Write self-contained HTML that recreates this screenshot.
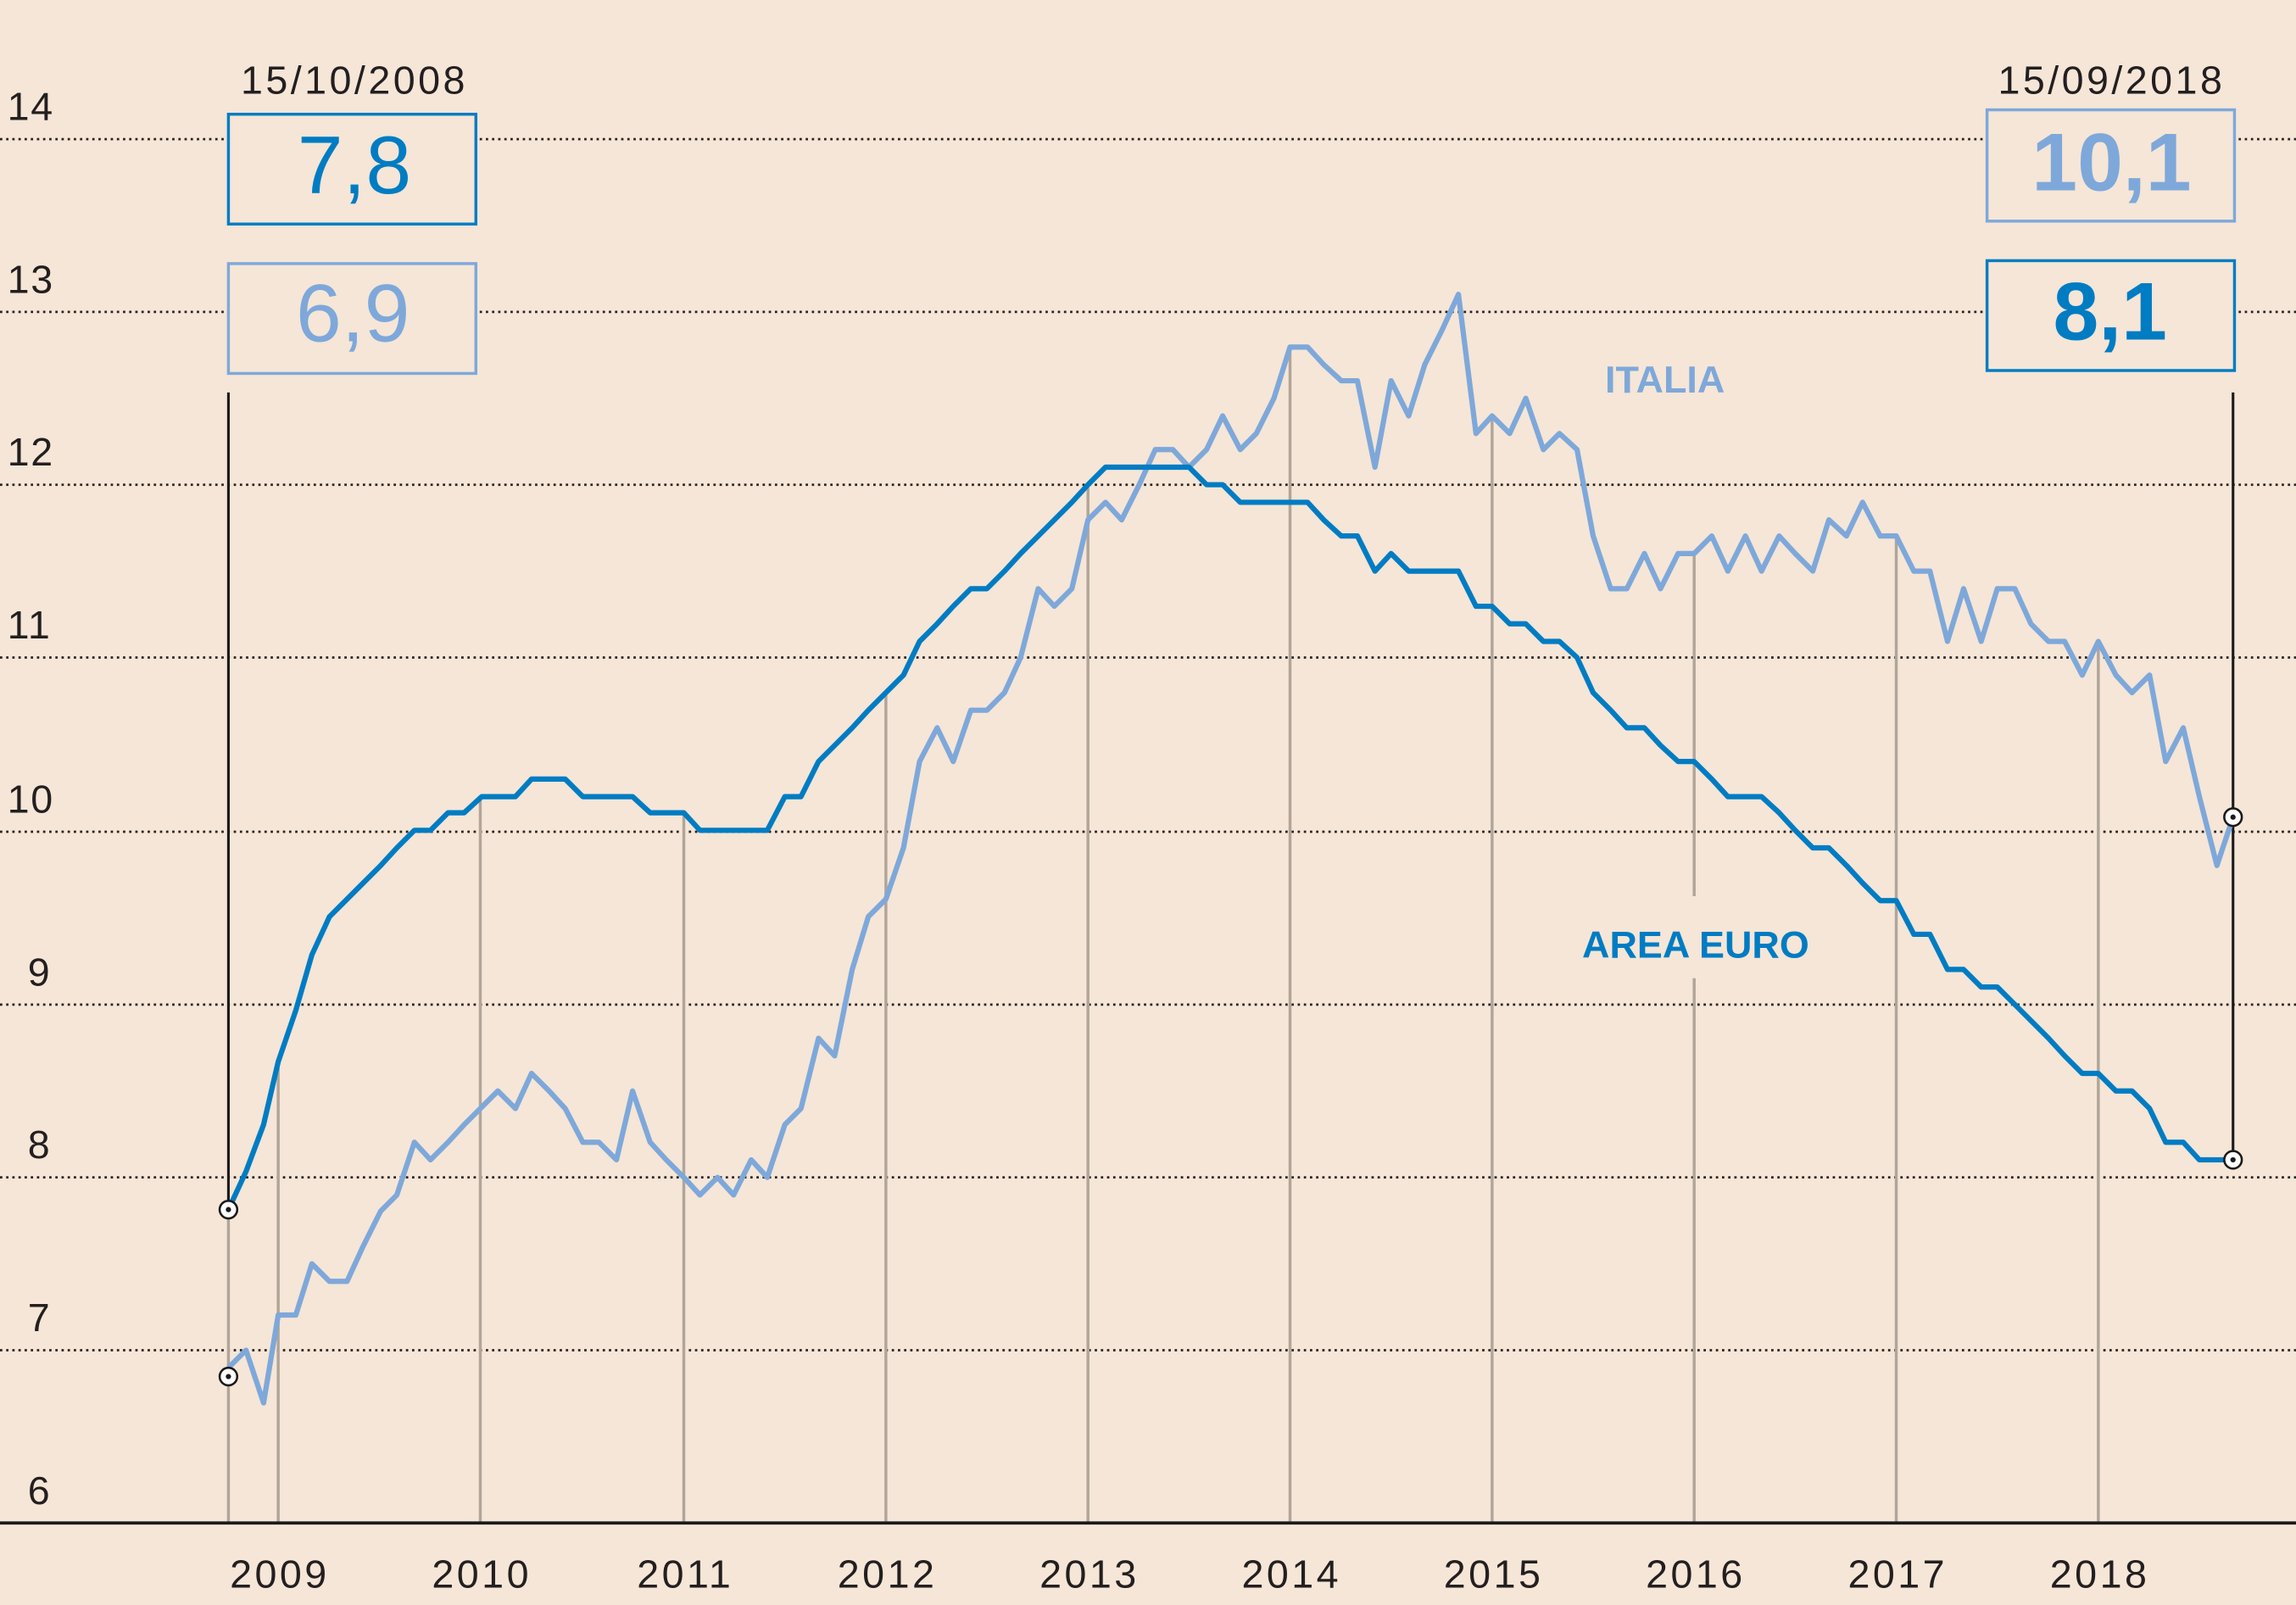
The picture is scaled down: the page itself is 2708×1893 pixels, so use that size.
<!DOCTYPE html>
<html><head><meta charset="utf-8"><style>
html,body{margin:0;padding:0;background:#f5e6d7;}
svg{display:block;}
text{font-family:"Liberation Sans",sans-serif;}
</style></head><body>
<svg width="2708" height="1893" viewBox="0 0 1568 1096" preserveAspectRatio="none" xmlns="http://www.w3.org/2000/svg">
<rect width="1568" height="1096" fill="#f5e6d7"/>
<g stroke="#2a2320" stroke-width="1.6" stroke-dasharray="1.6 2.6">
<line x1="0" y1="95" x2="1568" y2="95"/>
<line x1="0" y1="213" x2="1568" y2="213"/>
<line x1="0" y1="331" x2="1568" y2="331"/>
<line x1="0" y1="449" x2="1568" y2="449"/>
<line x1="0" y1="568" x2="1568" y2="568"/>
<line x1="0" y1="686" x2="1568" y2="686"/>
<line x1="0" y1="804" x2="1568" y2="804"/>
<line x1="0" y1="922" x2="1568" y2="922"/>
</g>
<g stroke="#b1a59a" stroke-width="2">
<line x1="156" y1="826" x2="156" y2="1040"/>
<line x1="190" y1="725" x2="190" y2="1040"/>
<line x1="328" y1="544" x2="328" y2="1040"/>
<line x1="467" y1="555" x2="467" y2="1040"/>
<line x1="605" y1="473" x2="605" y2="1040"/>
<line x1="743" y1="331" x2="743" y2="1040"/>
<line x1="881" y1="237" x2="881" y2="1040"/>
<line x1="1019" y1="284" x2="1019" y2="1040"/>
<line x1="1157" y1="378" x2="1157" y2="612"/>
<line x1="1157" y1="668" x2="1157" y2="1040"/>
<line x1="1295" y1="366" x2="1295" y2="1040"/>
<line x1="1433" y1="438" x2="1433" y2="1040"/>
</g>
<line x1="0" y1="1040" x2="1568" y2="1040" stroke="#1a1a1a" stroke-width="2.2"/>
<line x1="156" y1="268" x2="156" y2="826" stroke="#1a1a1a" stroke-width="1.8"/>
<line x1="1525" y1="268" x2="1525" y2="792" stroke="#1a1a1a" stroke-width="1.8"/>
<g font-size="27" fill="#231f20" letter-spacing="1">
<text x="5" y="82">14</text><text x="5" y="200">13</text><text x="5" y="318">12</text><text x="5" y="436">11</text><text x="5" y="555">10</text><text x="19" y="673">9</text><text x="19" y="791">8</text><text x="19" y="909">7</text><text x="19" y="1027">6</text>
</g>
<g font-size="27" fill="#231f20" text-anchor="middle" letter-spacing="2">
<text x="191" y="1084">2009</text><text x="329" y="1084">2010</text><text x="468" y="1084">2011</text><text x="606" y="1084">2012</text><text x="744" y="1084">2013</text><text x="882" y="1084">2014</text><text x="1020" y="1084">2015</text><text x="1158" y="1084">2016</text><text x="1296" y="1084">2017</text><text x="1434" y="1084">2018</text>
<text x="242" y="64">15/10/2008</text><text x="1442" y="64">15/09/2018</text>
</g>
<polyline fill="none" stroke="#7ea8da" stroke-width="3.6" stroke-linejoin="round" points="156,934 168,922 180,958 190,898 202,898 213,863 225,875 237,875 248,851 260,827 271,816 283,780 294,792 306,780 317,768 329,756 340,745 352,757 363,733 375,745 386,757 398,780 409,780 421,792 432,745 444,780 455,792 467,804 478,816 490,804 501,816 513,792 524,804 536,768 547,757 559,709 570,721 582,662 593,626 605,614 617,579 628,520 640,497 651,520 663,485 674,485 686,473 697,449 709,402 720,414 732,402 743,355 755,343 766,355 778,331 789,307 801,307 812,319 824,307 835,284 847,307 858,296 870,272 881,237 893,237 904,249 916,260 927,260 939,319 950,260 962,284 973,249 985,225 996,201 1008,296 1019,284 1031,296 1042,272 1054,307 1065,296 1077,307 1088,366 1100,402 1111,402 1123,378 1134,402 1146,378 1157,378 1169,366 1180,390 1192,366 1203,390 1215,366 1226,378 1238,390 1249,355 1261,366 1272,343 1284,366 1295,366 1307,390 1318,390 1330,438 1341,402 1353,438 1364,402 1376,402 1387,426 1399,438 1410,438 1422,461 1433,438 1445,461 1456,473 1468,461 1479,520 1491,497 1502,544 1514,591 1525,558"/>
<polyline fill="none" stroke="#007cc3" stroke-width="3.6" stroke-linejoin="round" points="156,826 168,800 180,768 190,725 202,690 213,652 225,626 237,614 248,603 260,591 271,579 283,567 294,567 306,555 317,555 329,544 340,544 352,544 363,532 375,532 386,532 398,544 409,544 421,544 432,544 444,555 455,555 467,555 478,567 490,567 501,567 513,567 524,567 536,544 547,544 559,520 570,509 582,497 593,485 605,473 617,461 628,438 640,426 651,414 663,402 674,402 686,390 697,378 709,366 720,355 732,343 743,331 755,319 766,319 778,319 789,319 801,319 812,319 824,331 835,331 847,343 858,343 870,343 881,343 893,343 904,355 916,366 927,366 939,390 950,378 962,390 973,390 985,390 996,390 1008,414 1019,414 1031,426 1042,426 1054,438 1065,438 1077,449 1088,473 1100,485 1111,497 1123,497 1134,509 1146,520 1157,520 1169,532 1180,544 1192,544 1203,544 1215,555 1226,567 1238,579 1249,579 1261,591 1272,603 1284,615 1295,615 1307,638 1318,638 1330,662 1341,662 1353,674 1364,674 1376,686 1387,697 1399,709 1410,721 1422,733 1433,733 1445,745 1456,745 1468,757 1479,780 1491,780 1502,792 1514,792 1525,792"/>
<g fill="#f5e6d7" stroke-width="2">
<rect x="156" y="78" width="169" height="75" stroke="#007cc3"/>
<rect x="156" y="180" width="169" height="75" stroke="#7ea8da"/>
<rect x="1357" y="75" width="169" height="76" stroke="#7ea8da"/>
<rect x="1357" y="178" width="169" height="75" stroke="#007cc3"/>
</g>
<g font-size="56" text-anchor="middle">
<text x="242" y="132" fill="#007cc3">7,8</text>
<text x="241" y="233" fill="#7ea8da">6,9</text>
<text x="1442" y="130" fill="#7ea8da" font-weight="bold">10,1</text>
<text x="1441" y="232" fill="#007cc3" font-weight="bold">8,1</text>
</g>
<text x="1137" y="268" font-size="26" fill="#7ea8da" font-weight="bold" text-anchor="middle">ITALIA</text>
<text x="1158" y="654" font-size="26" fill="#007cc3" font-weight="bold" text-anchor="middle">AREA EURO</text>
<g fill="#fff" stroke="#1a1a1a" stroke-width="1.5">
<circle cx="156" cy="826" r="6"/><circle cx="156" cy="940" r="6"/><circle cx="1525" cy="558" r="6"/><circle cx="1525" cy="792" r="6"/>
</g>
<g fill="#1a1a1a">
<circle cx="156" cy="826" r="1.8"/><circle cx="156" cy="940" r="1.8"/><circle cx="1525" cy="558" r="1.8"/><circle cx="1525" cy="792" r="1.8"/>
</g>
</svg>
</body></html>
